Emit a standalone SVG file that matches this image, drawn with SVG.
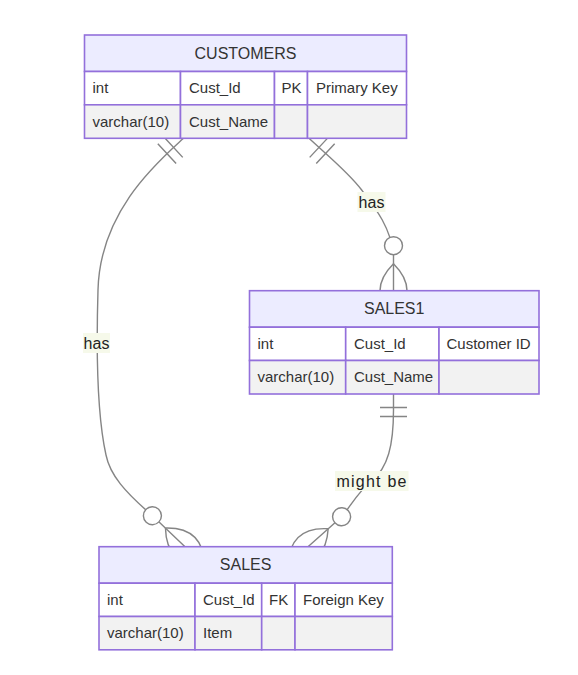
<svg xmlns="http://www.w3.org/2000/svg" width="578" height="675" viewBox="0 0 578 675">
<style>
  .edge{fill:none;stroke:#858585;stroke-width:1.4}
  .mk{fill:none;stroke:#858585;stroke-width:0.95}
  .hdr{fill:#ECECFF;stroke:#9370DB;stroke-width:1.6}
  .odd{fill:#ffffff;stroke:#9370DB;stroke-width:1.6}
  .even{fill:#f2f2f2;stroke:#9370DB;stroke-width:1.6}
  text{font-family:"Liberation Sans",Arial,sans-serif;fill:#333333}
  .title{font-size:16px;text-anchor:middle}
  .cell{font-size:15px}
  .lbl{font-size:16px;text-anchor:middle;fill:#222}
  .lblbg{fill:#f6f9ea}
</style>
<defs>
  <marker id="zeroOrMore" viewBox="0 0 57 36" refX="39" refY="18" markerWidth="85.5" markerHeight="54" markerUnits="userSpaceOnUse" orient="auto" overflow="visible">
    <circle cx="9" cy="18" r="6" fill="#ffffff" class="mk" style="fill:#ffffff"/>
    <path class="mk" d="M21,18 Q39,0 57,18 Q39,36 21,18"/>
  </marker>
  <marker id="onlyOne" viewBox="0 0 18 18" refX="0" refY="9" markerWidth="27" markerHeight="27" markerUnits="userSpaceOnUse" orient="auto" overflow="visible">
    <path class="mk" d="M9,0 L9,18 M15,0 L15,18"/>
  </marker>
</defs>
<rect width="578" height="675" fill="#ffffff"/>

<g id="connectors">
  <path id="e-cust-sales1" class="edge" marker-start="url(#onlyOne)" marker-end="url(#zeroOrMore)" d="M309,138.3 C328,156 348,172 361.7,190 C375.4,208 391,228 393.5,255 L393.5,290.7"/>
  <path id="e-cust-sales" class="edge" marker-start="url(#onlyOne)" marker-end="url(#zeroOrMore)" d="M183.5,138.3 C160,160 100,210 98,290 C96.5,340 96,410 106,455 C110,475 125,492 151.7,515 L185,546.7"/>
  <path id="e-sales1-sales" class="edge" marker-start="url(#onlyOne)" marker-end="url(#zeroOrMore)" d="M393.5,394 L393.5,410 C393.5,445 388,468 371.5,481 C358.3,491.4 350,507 341.7,516.7 L308,546.7"/>
  <g id="edge-labels">
    <rect class="lblbg" x="357.5" y="192" width="28" height="20"/>
    <text class="lbl" x="371.5" y="207.5">has</text>
    <rect class="lblbg" x="83" y="333" width="27" height="20"/>
    <text class="lbl" x="96.5" y="348.5">has</text>
    <rect class="lblbg" x="335" y="471" width="73.5" height="20"/>
    <text class="lbl" x="371.5" y="486.5" textLength="70" lengthAdjust="spacing">might be</text>
  </g>
</g>

<g id="CUSTOMERS">
  <rect class="hdr" x="84.5" y="35" width="322" height="36.5"/>
  <text class="title" x="245.5" y="58.5">CUSTOMERS</text>
  <rect class="odd" x="84.5" y="71.5" width="96" height="33.3"/>
  <rect class="odd" x="180.5" y="71.5" width="94" height="33.3"/>
  <rect class="odd" x="274.5" y="71.5" width="33" height="33.3"/>
  <rect class="odd" x="307.5" y="71.5" width="99" height="33.3"/>
  <rect class="even" x="84.5" y="104.8" width="96" height="33.5"/>
  <rect class="even" x="180.5" y="104.8" width="94" height="33.5"/>
  <rect class="even" x="274.5" y="104.8" width="33" height="33.5"/>
  <rect class="even" x="307.5" y="104.8" width="99" height="33.5"/>
  <text class="cell" x="92.5" y="93">int</text>
  <text class="cell" x="189" y="93">Cust_Id</text>
  <text class="cell" x="281.5" y="93">PK</text>
  <text class="cell" x="316" y="93">Primary Key</text>
  <text class="cell" x="92.5" y="126.5">varchar(10)</text>
  <text class="cell" x="189" y="126.5">Cust_Name</text>
</g>

<g id="SALES1">
  <rect class="hdr" x="249.5" y="290.7" width="289.5" height="36.5"/>
  <text class="title" x="394.2" y="314">SALES1</text>
  <rect class="odd" x="249.5" y="327.2" width="96.2" height="33.3"/>
  <rect class="odd" x="345.7" y="327.2" width="93.3" height="33.3"/>
  <rect class="odd" x="439" y="327.2" width="100" height="33.3"/>
  <rect class="even" x="249.5" y="360.5" width="96.2" height="33.5"/>
  <rect class="even" x="345.7" y="360.5" width="93.3" height="33.5"/>
  <rect class="even" x="439" y="360.5" width="100" height="33.5"/>
  <text class="cell" x="257.5" y="348.7">int</text>
  <text class="cell" x="354" y="348.7">Cust_Id</text>
  <text class="cell" x="446.5" y="348.7">Customer ID</text>
  <text class="cell" x="257.5" y="382">varchar(10)</text>
  <text class="cell" x="354" y="382">Cust_Name</text>
</g>

<g id="SALES">
  <rect class="hdr" x="99" y="546.7" width="293.3" height="36.5"/>
  <text class="title" x="245.6" y="570">SALES</text>
  <rect class="odd" x="99" y="583.2" width="96" height="33.3"/>
  <rect class="odd" x="195" y="583.2" width="66.7" height="33.3"/>
  <rect class="odd" x="261.7" y="583.2" width="33.3" height="33.3"/>
  <rect class="odd" x="295" y="583.2" width="97.3" height="33.3"/>
  <rect class="even" x="99" y="616.5" width="96" height="33.3"/>
  <rect class="even" x="195" y="616.5" width="66.7" height="33.3"/>
  <rect class="even" x="261.7" y="616.5" width="33.3" height="33.3"/>
  <rect class="even" x="295" y="616.5" width="97.3" height="33.3"/>
  <text class="cell" x="107" y="604.7">int</text>
  <text class="cell" x="203" y="604.7">Cust_Id</text>
  <text class="cell" x="269" y="604.7">FK</text>
  <text class="cell" x="303" y="604.7">Foreign Key</text>
  <text class="cell" x="107" y="638">varchar(10)</text>
  <text class="cell" x="203" y="638">Item</text>
</g>
</svg>
